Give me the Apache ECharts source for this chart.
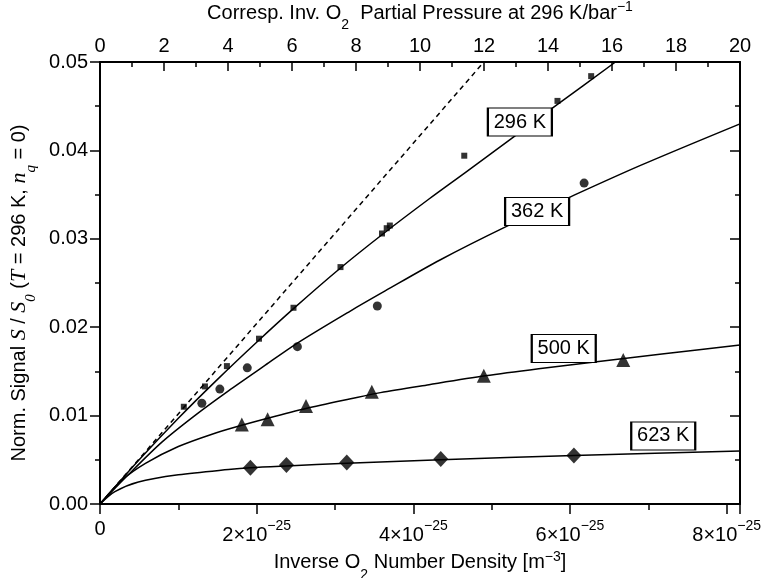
<!DOCTYPE html>
<html>
<head>
    <meta charset="utf-8">
    <title>Norm. Signal vs Inverse O2 Number Density</title>
    <script src="https://cdn.jsdelivr.net/npm/echarts@6/dist/echarts.min.js"></script>
    <style>
        html, body { margin: 0; padding: 0; background: #fff; }
        #chart1 { width: 770px; height: 578px; }
    </style>
</head>
<body>
<div id="chart1"></div>
<script type="text/javascript">
    // x values in units of 1e-25 m^-3, y values = S / S0
    var sq296X = [1.07, 1.34, 1.62, 2.03, 2.47, 3.07, 3.60, 3.66, 3.70, 4.65, 5.84, 6.27];
    var sq296Y = [0.0110, 0.0133, 0.0156, 0.0187, 0.0222, 0.0268, 0.0306, 0.0312, 0.0315, 0.0394, 0.0456, 0.0484];
    var ci362X = [1.30, 1.53, 1.88, 2.52, 3.54, 6.18];
    var ci362Y = [0.0114, 0.0130, 0.0154, 0.0178, 0.0224, 0.0363];
    var tr500X = [1.81, 2.14, 2.63, 3.47, 4.90, 6.68];
    var tr500Y = [0.0090, 0.0096, 0.0111, 0.0127, 0.0145, 0.0163];
    var di623X = [1.92, 2.38, 3.15, 4.35, 6.05];
    var di623Y = [0.0041, 0.0044, 0.0047, 0.0051, 0.0055];

    // fitted curves
    var fit296X = [0, 0.5, 1.0, 1.5, 2.0, 2.47, 3.07, 3.62, 4.2, 4.68, 5.26, 5.84, 6.58];
    var fit296Y = [0, 0.0050, 0.0097, 0.0141, 0.0183, 0.0221, 0.0267, 0.0306, 0.0345, 0.0376, 0.0414, 0.0452, 0.0500];
    var fit362X = [0, 0.36, 0.79, 1.21, 1.64, 2.11, 2.52, 3.19, 3.64, 4.34, 5.19, 5.97, 6.9, 8.17];
    var fit362Y = [0, 0.0033, 0.0070, 0.0100, 0.0128, 0.0157, 0.0182, 0.0218, 0.0241, 0.0276, 0.0314, 0.0346, 0.0383, 0.0430];
    var fit500X = [0, 0.28, 0.58, 1.0, 1.43, 1.81, 2.14, 2.63, 3.2, 3.58, 4.2, 4.92, 5.6, 6.34, 7.2, 8.17];
    var fit500Y = [0, 0.0027, 0.0046, 0.0065, 0.0079, 0.0089, 0.0097, 0.0108, 0.0119, 0.0126, 0.0135, 0.0145, 0.0153, 0.0161, 0.0170, 0.0180];
    var fit623X = [0, 0.19, 0.49, 1.0, 1.64, 1.92, 2.38, 3.15, 4.35, 6.05, 8.17];
    var fit623Y = [0, 0.0014, 0.0025, 0.0033, 0.0039, 0.0041, 0.0043, 0.0046, 0.0050, 0.0055, 0.0060];
    var dashX = [0, 4.90];
    var dashY = [0, 0.050];

    // curve labels
    var labelText = ['296 K', '362 K', '500 K', '623 K'];
    var labelX = [5.36, 5.58, 5.92, 7.19];
    var labelY = [0.0432, 0.0331, 0.0176, 0.0077];

    var xMax = 8.17;   // 20 bar^-1 on the top axis
    var font = 'Liberation Sans, Arial, sans-serif';
    var serif = 'Liberation Serif, Times New Roman, serif';

    function zip(xs, ys) {
        var out = [];
        for (var i = 0; i < xs.length; i++) out.push([xs[i], ys[i]]);
        return out;
    }

    function labelMark(i) {
        return {
            symbol: 'rect',
            symbolSize: [64, 28],
            silent: true,
            z: 10,
            itemStyle: {color: '#fff', borderColor: '#000', borderWidth: 1.5},
            label: {show: true, position: 'inside', color: '#000', fontSize: 20, fontFamily: font, formatter: labelText[i]},
            data: [{coord: [labelX[i], labelY[i]]}]
        };
    }

    function fitLine(name, xs, ys, i) {
        var s = {
            name: name, type: 'line', data: zip(xs, ys), smooth: 0.3,
            symbol: 'none', lineStyle: {color: '#000', width: 1.5}, z: 2
        };
        if (i !== undefined) s.markPoint = labelMark(i);
        return s;
    }

    function dots(xs, ys, symbol, size) {
        return {
            type: 'scatter', data: zip(xs, ys), symbol: symbol, symbolSize: size,
            itemStyle: {color: '#000'}, z: 5
        };
    }

    var axisLine = {show: true, onZero: false, lineStyle: {color: '#000', width: 2}};
    var richName = {
        n: {fontSize: 20, fontFamily: font, color: '#000', verticalAlign: 'middle', lineHeight: 26},
        sub: {fontSize: 14, fontFamily: font, color: '#000', verticalAlign: 'bottom', lineHeight: 26, padding: [0, 0, -6, 0]},
        sup: {fontSize: 14, fontFamily: font, color: '#000', verticalAlign: 'top', lineHeight: 26}
    };

    var myChart = echarts.init(document.getElementById('chart1'));
    myChart.setOption({
        animation: false,
        backgroundColor: '#fff',
        textStyle: {fontFamily: font, color: '#000'},
        grid: {left: 100, right: 30, top: 62, bottom: 74, containLabel: false, outerBoundsMode: 'none'},
        xAxis: [{
            type: 'value', position: 'bottom', min: 0, max: xMax, interval: 2,
            axisLine: axisLine,
            axisTick: {show: true, inside: false, length: 10, lineStyle: {color: '#000', width: 1.5}},
            minorTick: {show: true, splitNumber: 2, length: 6, lineStyle: {color: '#000', width: 1.5}},
            splitLine: {show: false},
            axisLabel: {
                color: '#000', fontSize: 20, fontFamily: font, margin: 15, showMaxLabel: false,
                formatter: function (v) {
                    if (v === 0) return '0';
                    if (v % 2 !== 0) return '';
                    return '{b|' + v + '×10}{sup|−25}';
                },
                rich: {
                    b: {fontSize: 20, fontFamily: font, color: '#000', verticalAlign: 'bottom', lineHeight: 26},
                    sup: {fontSize: 14, fontFamily: font, color: '#000', verticalAlign: 'top', lineHeight: 26}
                }
            },
            name: '{n|Inverse O}{sub|2}{n| Number Density [m}{sup|−3}{n|]}',
            nameLocation: 'middle', nameGap: 43,
            nameTextStyle: {rich: richName}
        }, {
            type: 'value', position: 'top', min: 0, max: 20, interval: 2,
            axisLine: axisLine,
            axisTick: {show: true, inside: true, length: 9, lineStyle: {color: '#000', width: 1.5}},
            minorTick: {show: true, splitNumber: 2, length: 5, lineStyle: {color: '#000', width: 1.5}},
            splitLine: {show: false},
            axisLabel: {color: '#000', fontSize: 20, fontFamily: font, margin: 6},
            name: '{n|Corresp. Inv. O}{sub|2}{n|  Partial Pressure at 296 K/bar}{sup|−1}',
            nameLocation: 'middle', nameGap: 36, nameMoveOverlap: false,
            nameTextStyle: {padding: [12, 0, 0, 0], rich: richName}
        }],
        yAxis: [{
            type: 'value', position: 'left', min: 0, max: 0.05, interval: 0.01,
            axisLine: axisLine,
            axisTick: {show: true, inside: false, length: 10, lineStyle: {color: '#000', width: 1.5}},
            minorTick: {show: true, splitNumber: 2, length: 5, lineStyle: {color: '#000', width: 1.5}},
            splitLine: {show: false},
            axisLabel: {
                color: '#000', fontSize: 20, fontFamily: font, margin: 12,
                formatter: function (v) { return v.toFixed(2); }
            },
            name: '{n|Norm. Signal }{i|S}{n| / }{i|S}{sub|0}{n| (}{i|T}{n| = 296 K, }{i|n}{sub|q}{n| = 0)}',
            nameLocation: 'middle', nameGap: 62,
            nameTextStyle: {
                padding: [0, 20, 0, 0],
                rich: {
                    n: {fontSize: 20, fontFamily: font, color: '#000', verticalAlign: 'middle', lineHeight: 26},
                    i: {fontSize: 22, fontFamily: serif, fontStyle: 'italic', color: '#000', verticalAlign: 'middle', lineHeight: 26},
                    sub: {fontSize: 15, fontFamily: serif, fontStyle: 'italic', color: '#000', verticalAlign: 'bottom', lineHeight: 26, padding: [0, 0, -6, 0]}
                }
            }
        }, {
            type: 'value', position: 'right', min: 0, max: 0.05, interval: 0.01,
            axisLine: axisLine,
            axisTick: {show: true, inside: true, length: 10, lineStyle: {color: '#000', width: 1.5}},
            minorTick: {show: true, splitNumber: 2, length: 5, lineStyle: {color: '#000', width: 1.5}},
            splitLine: {show: false},
            axisLabel: {show: false}
        }],
        series: [
            {
                type: 'line', data: zip(dashX, dashY), symbol: 'none', z: 1,
                lineStyle: {color: '#000', width: 1.5, type: [5, 4]}
            },
            fitLine('296 K', fit296X, fit296Y, 0),
            fitLine('362 K', fit362X, fit362Y, 1),
            fitLine('500 K', fit500X, fit500Y, 2),
            fitLine('623 K', fit623X, fit623Y, 3),
            dots(sq296X, sq296Y, 'rect', 6),
            dots(ci362X, ci362Y, 'circle', 9),
            dots(tr500X, tr500Y, 'triangle', 14),
            dots(di623X, di623Y, 'diamond', [15, 16])
        ]
    });
</script>
</body>
</html>
